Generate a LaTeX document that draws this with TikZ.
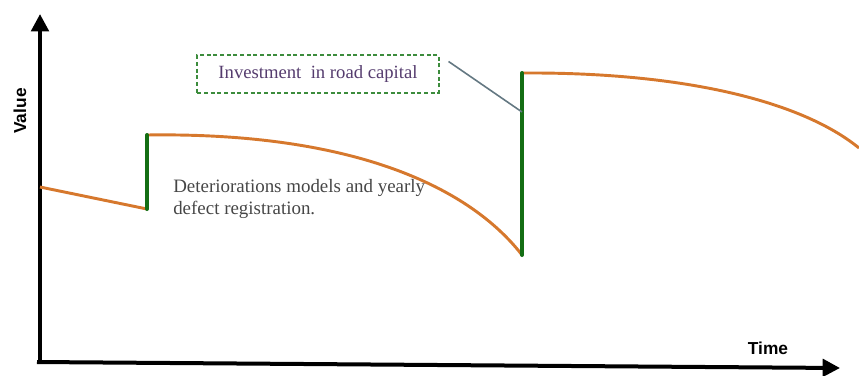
\documentclass[tikz,border=0pt]{standalone}
\usepackage{fontspec}
\setmainfont{Liberation Serif}
\setsansfont{Liberation Sans}
\usetikzlibrary{arrows.meta}
\definecolor{curveorange}{RGB}{214,120,45}
\definecolor{jumpgreen}{RGB}{20,110,20}
\definecolor{boxgreen}{RGB}{60,140,60}
\definecolor{boxtext}{RGB}{85,60,110}
\definecolor{gtext}{RGB}{70,70,70}
\definecolor{leader}{RGB}{100,120,130}
\tikzset{
  axisline/.style={line width=3pt, -{Triangle[length=13pt,width=13pt]}},
  valcurve/.style={curveorange, line width=2.2pt},
  jump/.style={jumpgreen, line width=3pt},
  labelbox/.style={draw=boxgreen, densely dashed, line width=1.3pt, minimum width=181pt, minimum height=28pt, inner sep=0pt, text=boxtext, font=\fontsize{14}{16}\selectfont},
  note/.style={text=gtext, align=left, inner sep=0pt, font=\fontsize{14.2}{17}\selectfont},
  axislabel/.style={font=\sffamily\bfseries\fontsize{13}{15}\selectfont, inner sep=0pt}
}
\begin{document}
\begin{tikzpicture}[x=0.75pt,y=-0.75pt]
\useasboundingbox (0,0) rectangle (859,375);
% axes
\coordinate (origin) at (40,362);
\coordinate (ytip) at (40,14);
\coordinate (xstart) at (37,362);
\coordinate (xtip) at (840,368);
\draw[axisline] (40,364) -- (ytip);
\draw[axisline] (xstart) -- (xtip);
% curve points
\coordinate (p0) at (40,187);
\coordinate (p1) at (147,209);
\coordinate (p2) at (147,135);
\coordinate (p3) at (522,255);
\coordinate (p4) at (522,73);
\coordinate (p5) at (859,148);
\draw[valcurve] (p0) -- (p1);
\draw[valcurve] (p2) .. controls (355,132) and (470,188) .. (p3);
\draw[valcurve] (p4) .. controls (680,72) and (800,100) .. (p5);
\draw[jump, line cap=round] (p1) -- (p2);
\draw[jump, line cap=round] (p3) -- (p4);
% labels
\node[labelbox] (box) at (318,74) {Investment\ \ in road capital};
\coordinate (lend) at (522,112);
\draw[leader, line width=1.2pt] (box.north east) ++(9,7) coordinate (lstart) -- (lend);
\node[note, anchor=west] (det) at (173,199) {Deteriorations models and yearly\\defect registration.};
\node[axislabel, rotate=90] (value) at (20,111) {Value};
\node[axislabel] (time) at (768,348) {Time};
\end{tikzpicture}
\end{document}
